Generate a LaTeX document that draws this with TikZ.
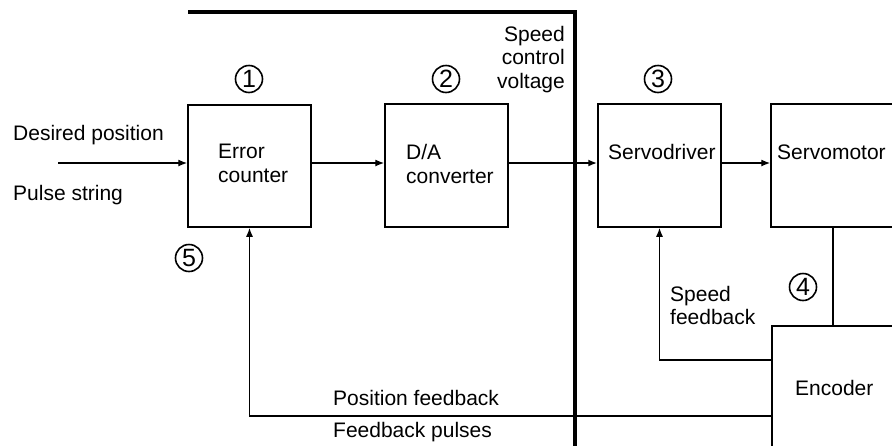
\documentclass[tikz,border=0pt]{standalone}
\usepackage{fontspec}
\setmainfont{Liberation Sans}
\usetikzlibrary{arrows.meta}
\begin{document}
\begin{tikzpicture}[x=1pt,y=-1pt,
  box/.style={draw,line width=1.5pt,rectangle,inner sep=0pt},
  lbl/.style={inner sep=0pt,font=\fontsize{21}{23.5}\selectfont},
  circ/.style={draw,circle,line width=1.6pt,inner sep=0pt,minimum size=27pt,font=\fontsize{25}{25}\selectfont},
  arr/.style={line width=1.3pt,-{Latex[length=9pt,width=7pt]}},
  wire/.style={line width=1.3pt}]
\clip (0,0) rectangle (892,445);
\useasboundingbox (0,0) rectangle (892,445);
% boxes
\node[box,minimum width=123pt,minimum height=122pt] (ec) at (249.5,166) {};
\node[box,minimum width=123pt,minimum height=123pt] (da) at (446.5,165.5) {};
\node[box,minimum width=123pt,minimum height=123pt] (sd) at (659.5,165.5) {};
\node[box,minimum width=160pt,minimum height=123pt] (sm) at (851,165.5) {};
\node[box,minimum width=160pt,minimum height=160pt] (enc) at (852,406) {};
% texts
\node[lbl,anchor=west,align=left] (tec) at (218,163.5) {Error\\counter};
\node[lbl,anchor=west,align=left] (tda) at (406,164) {D/A\\converter};
\node[lbl,anchor=west] (tsd) at (608,152) {Servodriver};
\node[lbl,anchor=west] (tsm) at (777,152) {Servomotor};
\node[lbl,anchor=west] (tenc) at (795,388) {Encoder};
\node[lbl,anchor=west] (dp) at (13,135) {Desired position};
\node[lbl,anchor=west] (ps) at (13,195) {Pulse string};
\node[lbl,anchor=east,align=right] (scv) at (565,59.5) {Speed\\control\\voltage};
\node[lbl,anchor=west,align=left] (sfb) at (670,305.5) {Speed\\feedback};
\node[lbl,anchor=west] (pf) at (333,398) {Position feedback};
\node[lbl,anchor=west] (fp) at (333,432) {Feedback pulses};
% circled numbers
\node[circ] (n1) at (249,79) {1};
\node[circ] (n2) at (446,79) {2};
\node[circ] (n3) at (658,79) {3};
\node[circ] (n4) at (803,287) {4};
\node[circ] (n5) at (189,258) {5};
% divider
\coordinate (dA) at (188,12);
\coordinate (dB) at (575,12);
\coordinate (dC) at (575,450);
\draw[line width=4pt,line join=miter] (dA) -- (dB) -- (dC);
% connectors
\coordinate (row) at (0,163);
\coordinate (inp) at (58,163);
\coordinate (c360) at (0,360);
\coordinate (c416) at (0,416);
\coordinate (mx) at (833,0);
\draw[arr] (inp) -- (inp -| ec.west);
\draw[arr] (ec.east |- row) -- (da.west |- row);
\draw[arr,line width=2.2pt] (da.east |- row) -- (sd.west |- row);
\draw[arr] (sd.east |- row) -- (sm.west |- row);
\draw[wire] (mx |- sm.south) -- (mx |- enc.north);
\draw[arr] (enc.west |- c360) -| (sd.south);
\draw[arr] (enc.west |- c416) -| (ec.south);
\end{tikzpicture}
\end{document}
